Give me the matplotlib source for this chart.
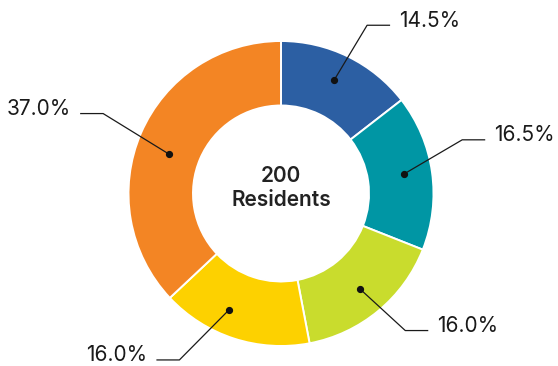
import numpy as np
import matplotlib
matplotlib.use("Agg")
import matplotlib.pyplot as plt

# Share of residents by group (percent), drawn clockwise from 12 o'clock
shares = [14.5, 16.5, 16.0, 16.0, 37.0]
colors = ["#2C5FA3", "#0096A4", "#C9DC2D", "#FDD100", "#F38524"]
total_residents = 200
center_title = "Residents"

# Leader-line layout tweaks: angle shifts (degrees) and radii (pixels)
dot_shift = [1.0, 1.0, 0.0, -6.0, 4.0]
dot_radius = [125, 125, 124, 127, 119]
elbow_shift = [-1.0, 8.4, 2.6, -13.4, -0.8]
elbow_radius = [189, 189, 185, 195, 195]

W, H = 558, 366
fig = plt.figure(figsize=(W / 100, H / 100), dpi=100)
ax = fig.add_axes([0, 0, 1, 1])

cx, cy = 281, H - 193.5
R = 152.5
ring = 64.5

ax.pie(shares, colors=colors, startangle=90, counterclock=False,
       radius=R, center=(cx, cy),
       wedgeprops=dict(width=ring, edgecolor="white", linewidth=1.4))
ax.set_xlim(0, W)
ax.set_ylim(0, H)
ax.set_aspect("equal")
ax.axis("off")

font = "Inter"
tot = sum(shares)
cum = 0.0
for i, v in enumerate(shares):
    mid = 90 - 360 * (cum + v / 2) / tot
    cum += v
    a_dot = np.radians(mid + dot_shift[i])
    a_elb = np.radians(mid + elbow_shift[i])
    dx = cx + dot_radius[i] * np.cos(a_dot)
    dy = cy + dot_radius[i] * np.sin(a_dot)
    ex = cx + elbow_radius[i] * np.cos(a_elb)
    ey = cy + elbow_radius[i] * np.sin(a_elb)
    side = 1 if np.cos(a_elb) >= 0 else -1
    hx = ex + side * 23
    ax.plot([dx, ex, hx], [dy, ey, ey], color="#1a1a1a", lw=0.9,
            solid_capstyle="butt", zorder=5)
    ax.plot([dx], [dy], "o", color="#111111", ms=4.2, zorder=6)
    ax.text(hx + side * 9, ey + 4.5, f"{v:.1f}%", fontsize=15,
            family=font, color="#1a1a1a",
            ha="left" if side > 0 else "right", va="center")

ax.text(cx, H - 176, f"{total_residents}", fontsize=15, family=font,
        fontweight="semibold", color="#222222", ha="center", va="center")
ax.text(cx, H - 200, center_title, fontsize=15, family=font,
        fontweight="semibold", color="#222222", ha="center", va="center")

fig.savefig("out.png", dpi=100)
